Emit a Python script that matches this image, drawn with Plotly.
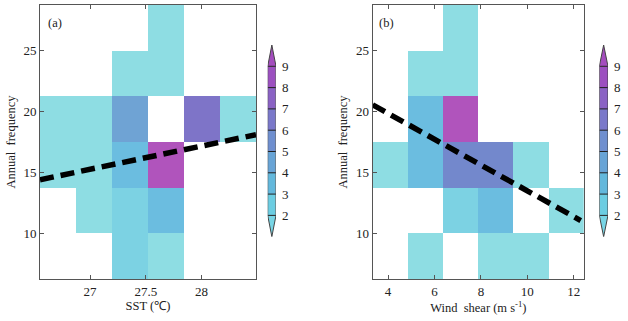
import plotly.graph_objects as go

# ---------------- data ----------------
sst_edges = [26.55, 26.875, 27.2, 27.52, 27.845, 28.17, 28.49]
shear_edges = [3.34, 4.86, 6.37, 7.89, 9.41, 10.92, 12.44]
freq_edges = [6.25, 10.0, 13.75, 17.5, 21.25, 25.0, 28.75]

# rows: frequency bins (low -> high), columns: x bins (low -> high); 0 = empty
counts_a = [
    [0, 0, 2, 1, 0, 0],
    [0, 1, 2, 3, 0, 0],
    [1, 1, 3, 8, 0, 0],
    [1, 1, 4, 0, 6, 1],
    [0, 0, 1, 1, 0, 0],
    [0, 0, 0, 1, 0, 0],
]
counts_b = [
    [0, 1, 0, 1, 1, 0],
    [0, 0, 2, 3, 0, 1],
    [1, 3, 5, 5, 1, 0],
    [0, 3, 8, 0, 0, 0],
    [0, 1, 1, 0, 0, 0],
    [0, 0, 1, 0, 0, 0],
]

fit_a_x = [26.55, 28.49]
fit_a_y = [14.4, 18.1]
fit_b_x = [3.34, 12.3]
fit_b_y = [20.55, 11.05]

levels = [2, 3, 4, 5, 6, 7, 8, 9]
sst_ticks = [27, 27.5, 28]
shear_ticks = [4, 6, 8, 10, 12]
freq_ticks = [10, 15, 20, 25]

# colours: under(<2), 2-3, 3-4, ..., 8-9, over(>=9)
cell_colors = ["#8EDDE3", "#7CD2E3", "#6BBDE0", "#6FA3D4", "#7388CC",
               "#7E74C8", "#9462C2", "#B054BC", "#B456BA"]
bar_colors = ["#78D5E5", "#6CCDE2", "#63B8DC", "#68A4D6", "#6F8FCF",
              "#7A78CA", "#8A62C4", "#9C50C0", "#A44DBE"]

ZMIN, ZMAX = 1, 10


def discrete_scale(colors):
    n = len(colors)
    cs = []
    for i, c in enumerate(colors):
        cs.append([i / n, c])
        cs.append([(i + 1) / n, c])
    return cs


def mask(m):
    return [[(v if v > 0 else None) for v in row] for row in m]


FONT = "Liberation Serif"
fig = go.Figure()

# heatmaps
fig.add_trace(go.Heatmap(x=sst_edges, y=freq_edges, z=mask(counts_a),
                         colorscale=discrete_scale(cell_colors), zmin=ZMIN, zmax=ZMAX,
                         showscale=False, hoverongaps=False, xaxis="x", yaxis="y"))
fig.add_trace(go.Heatmap(x=shear_edges, y=freq_edges, z=mask(counts_b),
                         colorscale=discrete_scale(cell_colors), zmin=ZMIN, zmax=ZMAX,
                         showscale=False, hoverongaps=False, xaxis="x2", yaxis="y2"))

# regression lines
fig.add_trace(go.Scatter(x=fit_a_x, y=fit_a_y, mode="lines",
                         line=dict(color="black", width=5.5, dash="14px,7px"),
                         showlegend=False, xaxis="x", yaxis="y"))
fig.add_trace(go.Scatter(x=fit_b_x, y=fit_b_y, mode="lines",
                         line=dict(color="black", width=5.5, dash="14px,7px"),
                         showlegend=False, xaxis="x2", yaxis="y2"))

# custom colorbars
for xa, ya in [("x3", "y3"), ("x4", "y4")]:
    zc = [[lv + 0.5] for lv in levels[:-1]]
    fig.add_trace(go.Heatmap(x=[0, 1], y=levels, z=zc,
                             colorscale=discrete_scale(bar_colors), zmin=ZMIN, zmax=ZMAX,
                             showscale=False, xaxis=xa, yaxis=ya))
    fig.add_trace(go.Scatter(x=[0, 0.5, 1, 0], y=[levels[-1], levels[-1] + 1, levels[-1], levels[-1]],
                             fill="toself", fillcolor=bar_colors[-1], mode="lines",
                             line=dict(width=0), showlegend=False, xaxis=xa, yaxis=ya))
    fig.add_trace(go.Scatter(x=[0, 0.5, 1, 0], y=[levels[0], levels[0] - 1, levels[0], levels[0]],
                             fill="toself", fillcolor=bar_colors[0], mode="lines",
                             line=dict(width=0), showlegend=False, xaxis=xa, yaxis=ya))
    dx, dy = [], []
    for lv in levels:
        dx += [0, 1, None]
        dy += [lv, lv, None]
    fig.add_trace(go.Scatter(x=dx, y=dy, mode="lines", line=dict(color="#222", width=1),
                             showlegend=False, xaxis=xa, yaxis=ya))
    fig.add_trace(go.Scatter(x=[0, 0, 0.5, 1, 1, 0.5, 0],
                             y=[levels[0], levels[-1], levels[-1] + 1, levels[-1], levels[0], levels[0] - 1, levels[0]],
                             mode="lines", line=dict(color="#444", width=1),
                             showlegend=False, xaxis=xa, yaxis=ya))

W, H = 628, 321


def px(x):
    return x / W


def py(y):
    return 1 - y / H


ydom = [py(279), py(5)]
common = dict(showline=True, linecolor="#555", linewidth=1, mirror="ticks",
              ticks="inside", ticklen=4, tickcolor="#555", showgrid=False,
              zeroline=False, tickfont=dict(family=FONT, size=13, color="#222"))

cb_dom = [py(236.7), py(45)]
cb_x = dict(range=[0, 1], visible=False, fixedrange=True)
cb_y = dict(range=[1, 10], showgrid=False, zeroline=False, showline=False,
            side="right", tickvals=levels, ticks="", ticklabelstandoff=5,
            tickfont=dict(family=FONT, size=13, color="#222"))

fig.update_layout(
    width=W, height=H, margin=dict(l=0, r=0, t=0, b=0),
    paper_bgcolor="white", plot_bgcolor="white", showlegend=False,
    font=dict(family=FONT, size=12, color="#222"),
    xaxis=dict(domain=[px(40), px(256)], range=[sst_edges[0], sst_edges[-1]],
               tickvals=sst_ticks, anchor="y",
               title=dict(text="SST (℃)", font=dict(family=FONT, size=12.5), standoff=3), **common),
    yaxis=dict(domain=ydom, range=[freq_edges[0], freq_edges[-1]], tickvals=freq_ticks, anchor="x",
               title=dict(text="Annual  frequency", font=dict(family=FONT, size=12.5), standoff=5), **common),
    xaxis2=dict(domain=[px(372.7), px(584)], range=[shear_edges[0], shear_edges[-1]],
                tickvals=shear_ticks, anchor="y2",
                title=dict(text="Wind  shear (m s<sup>-1</sup>)", font=dict(family=FONT, size=12.5), standoff=3),
                **common),
    yaxis2=dict(domain=ydom, range=[freq_edges[0], freq_edges[-1]], tickvals=freq_ticks, anchor="x2",
                title=dict(text="Annual  frequency", font=dict(family=FONT, size=12.5), standoff=5), **common),
    xaxis3=dict(domain=[px(267.7), px(276)], anchor="y3", **cb_x),
    yaxis3=dict(domain=cb_dom, anchor="x3", **cb_y),
    xaxis4=dict(domain=[px(599.3), px(608)], anchor="y4", **cb_x),
    yaxis4=dict(domain=cb_dom, anchor="x4", **cb_y),
    annotations=[
        dict(text="(a)", x=px(46), y=py(23), xref="paper", yref="paper",
             xanchor="left", yanchor="middle", showarrow=False, font=dict(family=FONT, size=12.5, color="#222")),
        dict(text="(b)", x=px(377), y=py(23), xref="paper", yref="paper",
             xanchor="left", yanchor="middle", showarrow=False, font=dict(family=FONT, size=12.5, color="#222")),
    ],
)

fig.write_html("out.html", config={"displayModeBar": False},
               post_script="document.body.style.margin='0px';document.body.style.padding='0px';")
